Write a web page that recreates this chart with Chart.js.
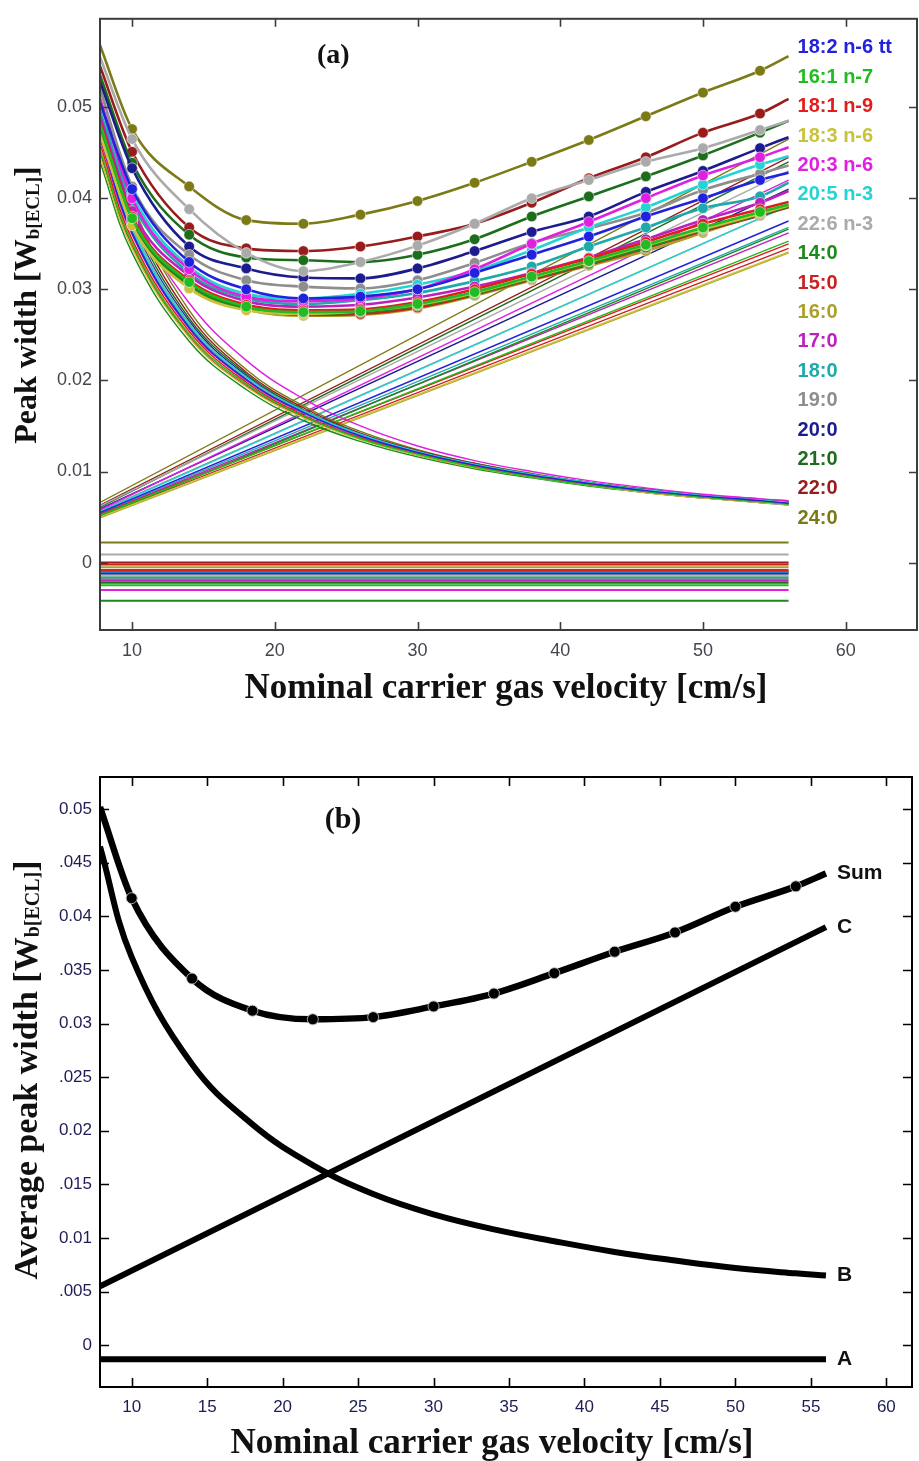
<!DOCTYPE html>
<html>
<head>
<meta charset="utf-8">
<title>Peak width vs carrier gas velocity</title>
<script src="https://cdn.jsdelivr.net/npm/chart.js@4.4.1/dist/chart.umd.min.js"></script>
<style>
  html, body { margin: 0; padding: 0; background: #fff; }
  #chartA { position: absolute; left: 0; top: 0; }
  #chartB { position: absolute; left: 0; top: 730px; }
</style>
</head>
<body>
<canvas id="chartA" width="919" height="730"></canvas>
<canvas id="chartB" width="919" height="731"></canvas>
<script>
// ---- panel (a): one set of curves per fatty acid ----
const compounds = ['18:2 n-6 tt', '16:1 n-7', '18:1 n-9', '18:3 n-6', '20:3 n-6', '20:5 n-3', '22:6 n-3',
  '14:0', '15:0', '16:0', '17:0', '18:0', '19:0', '20:0', '21:0', '22:0', '24:0'];
const compoundColors = ['#2222dd', '#22bb22', '#e01e1e', '#c9c23c', '#e020e0', '#22d4d4', '#aaaaaa',
  '#1c8a1c', '#cc2020', '#aba02a', '#bb22bb', '#1eaaaa', '#8e8e8e', '#1c1c8e', '#1c6e1c', '#981c1c', '#7c7a16'];

// velocities where the curves were read (markers sit on 10 ... 54)
const velocity = [7.75, 10, 14, 18, 22, 26, 30, 34, 38, 42, 46, 50, 54, 56];

// Sum curves (peak width, ECL units)
const sumWidth = [
  [0.0505, 0.0410, 0.0330, 0.0300, 0.0290, 0.0292, 0.0300, 0.0318, 0.0338, 0.0358, 0.0380, 0.0400, 0.0420, 0.0428],
  [0.0482, 0.0378, 0.0308, 0.0281, 0.0275, 0.0276, 0.0284, 0.0297, 0.0314, 0.0331, 0.0349, 0.0368, 0.0385, 0.0393],
  [0.0485, 0.0380, 0.0310, 0.0283, 0.0277, 0.0278, 0.0286, 0.0300, 0.0317, 0.0334, 0.0352, 0.0372, 0.0388, 0.0396],
  [0.0470, 0.0370, 0.0301, 0.0277, 0.0273, 0.0276, 0.0283, 0.0296, 0.0313, 0.0330, 0.0348, 0.0366, 0.0383, 0.0392],
  [0.0510, 0.0400, 0.0322, 0.0292, 0.0287, 0.0290, 0.0300, 0.0322, 0.0350, 0.0374, 0.0400, 0.0425, 0.0445, 0.0456],
  [0.0505, 0.0404, 0.0325, 0.0295, 0.0290, 0.0295, 0.0305, 0.0320, 0.0343, 0.0368, 0.0390, 0.0415, 0.0437, 0.0446],
  [0.0555, 0.0465, 0.0388, 0.0340, 0.0320, 0.0330, 0.0348, 0.0372, 0.0400, 0.0420, 0.0440, 0.0455, 0.0475, 0.0485],
  [0.0478, 0.0375, 0.0305, 0.0279, 0.0273, 0.0275, 0.0282, 0.0295, 0.0312, 0.0328, 0.0346, 0.0365, 0.0382, 0.0391],
  [0.0480, 0.0377, 0.0307, 0.0280, 0.0272, 0.0273, 0.0280, 0.0294, 0.0311, 0.0327, 0.0345, 0.0364, 0.0381, 0.0390],
  [0.0475, 0.0372, 0.0303, 0.0278, 0.0271, 0.0272, 0.0279, 0.0293, 0.0310, 0.0326, 0.0342, 0.0362, 0.0383, 0.0392],
  [0.0490, 0.0386, 0.0315, 0.0287, 0.0281, 0.0283, 0.0291, 0.0303, 0.0318, 0.0335, 0.0355, 0.0376, 0.0395, 0.0408],
  [0.0495, 0.0395, 0.0318, 0.0290, 0.0284, 0.0288, 0.0296, 0.0309, 0.0325, 0.0347, 0.0368, 0.0389, 0.0402, 0.0417],
  [0.0520, 0.0413, 0.0338, 0.0310, 0.0303, 0.0301, 0.0310, 0.0329, 0.0351, 0.0367, 0.0384, 0.0409, 0.0427, 0.0436],
  [0.0528, 0.0433, 0.0347, 0.0323, 0.0313, 0.0312, 0.0323, 0.0342, 0.0363, 0.0380, 0.0407, 0.0430, 0.0455, 0.0467],
  [0.0535, 0.0439, 0.0360, 0.0335, 0.0332, 0.0330, 0.0338, 0.0355, 0.0380, 0.0402, 0.0424, 0.0447, 0.0472, 0.0485],
  [0.0545, 0.0451, 0.0368, 0.0345, 0.0342, 0.0347, 0.0358, 0.0372, 0.0395, 0.0422, 0.0445, 0.0472, 0.0493, 0.0509],
  [0.0568, 0.0476, 0.0413, 0.0376, 0.0372, 0.0382, 0.0397, 0.0417, 0.0440, 0.0464, 0.0490, 0.0516, 0.0540, 0.0556]
];

// B term (longitudinal diffusion), same velocities
const termB = [
  [0.0470, 0.0362, 0.0258, 0.0201, 0.0165, 0.0139, 0.0121, 0.0107, 0.0096, 0.0087, 0.0079, 0.0073, 0.0068, 0.0065],
  [0.0452, 0.0350, 0.0250, 0.0196, 0.0161, 0.0136, 0.0119, 0.0105, 0.0094, 0.0085, 0.0078, 0.0072, 0.0067, 0.0064],
  [0.0460, 0.0355, 0.0254, 0.0198, 0.0162, 0.0137, 0.0120, 0.0106, 0.0095, 0.0086, 0.0078, 0.0072, 0.0067, 0.0065],
  [0.0445, 0.0345, 0.0247, 0.0193, 0.0159, 0.0135, 0.0118, 0.0104, 0.0094, 0.0085, 0.0077, 0.0071, 0.0066, 0.0064],
  [0.0478, 0.0385, 0.0285, 0.0222, 0.0180, 0.0150, 0.0128, 0.0112, 0.0100, 0.0090, 0.0082, 0.0075, 0.0070, 0.0068],
  [0.0475, 0.0368, 0.0262, 0.0204, 0.0167, 0.0141, 0.0122, 0.0108, 0.0097, 0.0088, 0.0080, 0.0074, 0.0069, 0.0066],
  [0.0490, 0.0372, 0.0263, 0.0203, 0.0165, 0.0139, 0.0120, 0.0105, 0.0094, 0.0085, 0.0077, 0.0071, 0.0066, 0.0063],
  [0.0440, 0.0340, 0.0243, 0.0190, 0.0156, 0.0133, 0.0116, 0.0103, 0.0093, 0.0084, 0.0077, 0.0071, 0.0066, 0.0063],
  [0.0450, 0.0348, 0.0248, 0.0194, 0.0160, 0.0136, 0.0118, 0.0104, 0.0094, 0.0085, 0.0077, 0.0071, 0.0066, 0.0064],
  [0.0455, 0.0352, 0.0251, 0.0196, 0.0161, 0.0136, 0.0119, 0.0105, 0.0094, 0.0085, 0.0078, 0.0071, 0.0067, 0.0064],
  [0.0465, 0.0360, 0.0257, 0.0200, 0.0164, 0.0138, 0.0120, 0.0106, 0.0095, 0.0086, 0.0078, 0.0072, 0.0067, 0.0065],
  [0.0472, 0.0364, 0.0259, 0.0202, 0.0165, 0.0139, 0.0121, 0.0107, 0.0096, 0.0087, 0.0079, 0.0073, 0.0068, 0.0066],
  [0.0480, 0.0368, 0.0261, 0.0203, 0.0166, 0.0140, 0.0121, 0.0107, 0.0096, 0.0087, 0.0079, 0.0073, 0.0068, 0.0065],
  [0.0488, 0.0374, 0.0265, 0.0205, 0.0167, 0.0141, 0.0122, 0.0108, 0.0097, 0.0087, 0.0080, 0.0073, 0.0068, 0.0066],
  [0.0498, 0.0380, 0.0268, 0.0207, 0.0168, 0.0141, 0.0122, 0.0108, 0.0097, 0.0088, 0.0080, 0.0074, 0.0069, 0.0066],
  [0.0508, 0.0386, 0.0272, 0.0209, 0.0170, 0.0142, 0.0123, 0.0109, 0.0097, 0.0088, 0.0080, 0.0074, 0.0069, 0.0067],
  [0.0525, 0.0395, 0.0277, 0.0212, 0.0172, 0.0144, 0.0124, 0.0109, 0.0098, 0.0088, 0.0081, 0.0074, 0.0070, 0.0067]
];

// C term (mass transfer) is a straight line: value at first and last velocity
const lineEnds = [7.75, 56];
const termCStart = [0.0055, 0.0052, 0.0053, 0.0050, 0.0058, 0.0056, 0.0062, 0.0050, 0.0051, 0.0049, 0.0053, 0.0054, 0.0057, 0.0059, 0.0061, 0.0063, 0.0066];
const termCEnd = [0.0375, 0.0353, 0.0350, 0.0341, 0.0420, 0.0392, 0.0430, 0.0366, 0.0345, 0.0340, 0.0362, 0.0368, 0.0392, 0.0410, 0.0440, 0.0445, 0.0465];

// A term (constant)
const termA = [-0.0012, -0.0025, -0.0008, -0.0014, -0.0030, -0.0011, 0.0009, -0.0042, -0.0002, -0.0005, -0.0020, -0.0016, -0.0018, -0.0010, -0.0022, 0.0000, 0.0022];

// ---- panel (b): averages ----
const avgVelocity = [7.9, 10, 14, 18, 22, 26, 30, 34, 38, 42, 46, 50, 54, 56];
const avgSum = [0.0502, 0.0417, 0.0342, 0.0312, 0.0304, 0.0306, 0.0316, 0.0328, 0.0347, 0.0367, 0.0385, 0.0409, 0.0428, 0.0440];
const avgB = [0.0465, 0.0362, 0.0262, 0.0206, 0.0168, 0.0141, 0.0122, 0.0108, 0.0097, 0.0087, 0.0079, 0.0072, 0.0067, 0.0065];
const avgLineEnds = [7.9, 56];
const avgC = [0.0055, 0.0390];
const avgA = [-0.0013, -0.0013];
const avgLabels = ['Sum', 'C', 'B', 'A'];

const SANS = "'Liberation Sans', Arial, sans-serif";
const SERIF = "'Liberation Serif', 'Times New Roman', serif";

function pts(xs, ys) {
  return xs.map((x, i) => ({ x: x, y: ys[i] }));
}

function markerRadius(r) {
  return ctx => (ctx.dataIndex === 0 || ctx.dataIndex === ctx.dataset.data.length - 1) ? 0 : r;
}

// frame, inward ticks, titles and curve labels
const panelDecor = {
  id: 'panelDecor',
  afterDatasetsDraw(chart, args, opts) {
    const ctx = chart.ctx;
    const a = chart.chartArea;
    const sx = chart.scales.x, sy = chart.scales.y;
    ctx.save();
    ctx.strokeStyle = opts.frameColor;
    ctx.lineWidth = 1.6;
    ctx.beginPath();
    sx.ticks.forEach(t => {
      const p = Math.round(sx.getPixelForValue(t.value)) + 0.5;
      ctx.moveTo(p, a.bottom); ctx.lineTo(p, a.bottom - opts.tickLen);
      ctx.moveTo(p, a.top); ctx.lineTo(p, a.top + opts.tickLen);
    });
    sy.ticks.forEach(t => {
      const p = Math.round(sy.getPixelForValue(t.value)) + 0.5;
      ctx.moveTo(a.left, p); ctx.lineTo(a.left + opts.tickLen, p);
      ctx.moveTo(a.right, p); ctx.lineTo(a.right - opts.tickLen, p);
    });
    ctx.stroke();
    ctx.lineWidth = 2;
    ctx.strokeRect(a.left, a.top, a.right - a.left, a.bottom - a.top);

    // panel label
    ctx.fillStyle = '#111';
    ctx.font = 'bold ' + opts.panelFont + 'px ' + SERIF;
    ctx.textAlign = 'center';
    ctx.textBaseline = 'middle';
    ctx.fillText(opts.panel, sx.getPixelForValue(opts.panelAt[0]), sy.getPixelForValue(opts.panelAt[1]));

    // x title
    ctx.font = 'bold ' + opts.titleFont + 'px ' + SERIF;
    ctx.fillText(opts.xTitle, opts.xTitlePos[0], opts.xTitlePos[1]);

    // y title with subscript
    ctx.translate(opts.yTitlePos[0], opts.yTitlePos[1]);
    ctx.rotate(-Math.PI / 2);
    const parts = [
      { text: opts.yTitle, size: opts.yFont, dy: 0 },
      { text: 'b[ECL]', size: Math.round(opts.yFont * 0.6), dy: 6 },
      { text: ']', size: opts.yFont, dy: 0 }
    ];
    let total = 0;
    parts.forEach(p => { ctx.font = 'bold ' + p.size + 'px ' + SERIF; total += ctx.measureText(p.text).width; });
    let cx = -total / 2;
    ctx.textAlign = 'left';
    parts.forEach(p => {
      ctx.font = 'bold ' + p.size + 'px ' + SERIF;
      ctx.fillText(p.text, cx, p.dy);
      cx += ctx.measureText(p.text).width;
    });
    ctx.restore();

    if (opts.drawLabels) opts.drawLabels(chart);
  }
};

// ---- datasets for (a) ----
const datasetsA = [];
compounds.forEach((name, i) => {
  datasetsA.push({
    label: name + ' sum',
    data: pts(velocity, sumWidth[i]),
    borderColor: compoundColors[i],
    backgroundColor: compoundColors[i],
    borderWidth: 2.6,
    cubicInterpolationMode: 'monotone',
    pointRadius: markerRadius(5.3),
    pointBorderColor: 'rgba(255,255,255,0.55)',
    pointBorderWidth: 1
  });
});
compounds.forEach((name, i) => {
  datasetsA.push({
    label: name + ' B',
    data: pts(velocity, termB[i]),
    borderColor: compoundColors[i],
    borderWidth: 1.4,
    tension: 0.4,
    pointRadius: 0
  });
});
compounds.forEach((name, i) => {
  datasetsA.push({
    label: name + ' C',
    data: pts(lineEnds, [termCStart[i], termCEnd[i]]),
    borderColor: compoundColors[i],
    borderWidth: 1.4,
    pointRadius: 0
  });
});
compounds.forEach((name, i) => {
  datasetsA.push({
    label: name + ' A',
    data: pts(lineEnds, [termA[i], termA[i]]),
    borderColor: compoundColors[i],
    borderWidth: 2,
    pointRadius: 0
  });
});

new Chart(document.getElementById('chartA'), {
  type: 'line',
  data: { datasets: datasetsA },
  options: {
    responsive: false,
    animation: false,
    events: [],
    layout: { padding: { left: 0, top: 14, right: 2, bottom: 0 } },
    plugins: {
      legend: { display: false },
      tooltip: { enabled: false },
      panelDecor: {
        frameColor: '#3c3c3c',
        tickLen: 8,
        panel: '(a)', panelAt: [24.1, 0.0556], panelFont: 28,
        titleFont: 35,
        xTitle: 'Nominal carrier gas velocity [cm/s]', xTitlePos: [506, 689],
        yTitle: 'Peak width [W', yFont: 32, yTitlePos: [28, 305],
        drawLabels(chart) {
          const ctx = chart.ctx;
          const a = chart.chartArea;
          const x0 = chart.scales.x.getPixelForValue(56) + 9;
          ctx.save();
          ctx.font = 'bold 20px ' + SANS;
          ctx.textAlign = 'left';
          ctx.textBaseline = 'middle';
          compounds.forEach((name, i) => {
            ctx.fillStyle = compoundColors[i];
            ctx.fillText(name, x0, a.top + 29 + i * 29.4);
          });
          ctx.restore();
        }
      }
    },
    scales: {
      x: {
        type: 'linear', min: 7.75, max: 65,
        afterFit: s => { s.height = 100; },
        grid: { display: false, drawTicks: false },
        border: { display: false },
        ticks: { stepSize: 10, includeBounds: false, autoSkip: false, maxRotation: 0, padding: 10,
          color: '#45454f', font: { family: SANS, size: 18 } }
      },
      y: {
        type: 'linear', min: -0.0074, max: 0.0597,
        afterFit: s => { s.width = 100; },
        grid: { display: false, drawTicks: false },
        border: { display: false },
        ticks: { stepSize: 0.01, includeBounds: false, autoSkip: false, padding: 8,
          color: '#45454f', font: { family: SANS, size: 18 },
          callback: v => Math.abs(v) < 1e-9 ? '0' : v.toFixed(2) }
      }
    }
  },
  plugins: [panelDecor]
});

// ---- datasets for (b) ----
const datasetsB = [
  {
    label: 'Sum', data: pts(avgVelocity, avgSum),
    borderColor: '#000', backgroundColor: '#000', borderWidth: 6.5,
    cubicInterpolationMode: 'monotone',
    pointRadius: markerRadius(5.5),
    pointBorderColor: 'rgba(190,190,190,0.9)', pointBorderWidth: 1
  },
  { label: 'C', data: pts(avgLineEnds, avgC), borderColor: '#000', borderWidth: 6, pointRadius: 0 },
  { label: 'B', data: pts(avgVelocity, avgB), borderColor: '#000', borderWidth: 6,
    tension: 0.4, pointRadius: 0 },
  { label: 'A', data: pts(avgLineEnds, avgA), borderColor: '#000', borderWidth: 6, pointRadius: 0 }
];

new Chart(document.getElementById('chartB'), {
  type: 'line',
  data: { datasets: datasetsB },
  options: {
    responsive: false,
    animation: false,
    events: [],
    layout: { padding: { left: 0, top: 47, right: 7, bottom: 0 } },
    plugins: {
      legend: { display: false },
      tooltip: { enabled: false },
      panelDecor: {
        frameColor: '#000',
        tickLen: 9,
        panel: '(b)', panelAt: [24.0, 0.0490], panelFont: 30,
        titleFont: 35,
        xTitle: 'Nominal carrier gas velocity [cm/s]', xTitlePos: [492, 714],
        yTitle: 'Average peak width [W', yFont: 34, yTitlePos: [28, 340],
        drawLabels(chart) {
          const ctx = chart.ctx;
          ctx.save();
          ctx.font = 'bold 21px ' + SANS;
          ctx.fillStyle = '#111';
          ctx.textAlign = 'left';
          ctx.textBaseline = 'middle';
          avgLabels.forEach((name, i) => {
            const pts = chart.getDatasetMeta(i).data;
            const last = pts[pts.length - 1];
            ctx.fillText(name, last.x + 11, last.y);
          });
          ctx.restore();
        }
      }
    },
    scales: {
      x: {
        type: 'linear', min: 7.9, max: 61.7,
        afterFit: s => { s.height = 74; },
        grid: { display: false, drawTicks: false },
        border: { display: false },
        ticks: { stepSize: 5, includeBounds: false, autoSkip: false, maxRotation: 0, padding: 10,
          color: '#1d1d55', font: { family: SANS, size: 17 } }
      },
      y: {
        type: 'linear', min: -0.0039, max: 0.053,
        afterFit: s => { s.width = 100; },
        grid: { display: false, drawTicks: false },
        border: { display: false },
        ticks: { stepSize: 0.005, includeBounds: false, autoSkip: false, padding: 8,
          color: '#1d1d55', font: { family: SANS, size: 17 },
          callback: v => {
            if (Math.abs(v) < 1e-9) return '0';
            const s = v.toFixed(3);
            return s.endsWith('0') ? v.toFixed(2) : s.slice(1);
          } }
      }
    }
  },
  plugins: [panelDecor]
});
</script>
</body>
</html>
